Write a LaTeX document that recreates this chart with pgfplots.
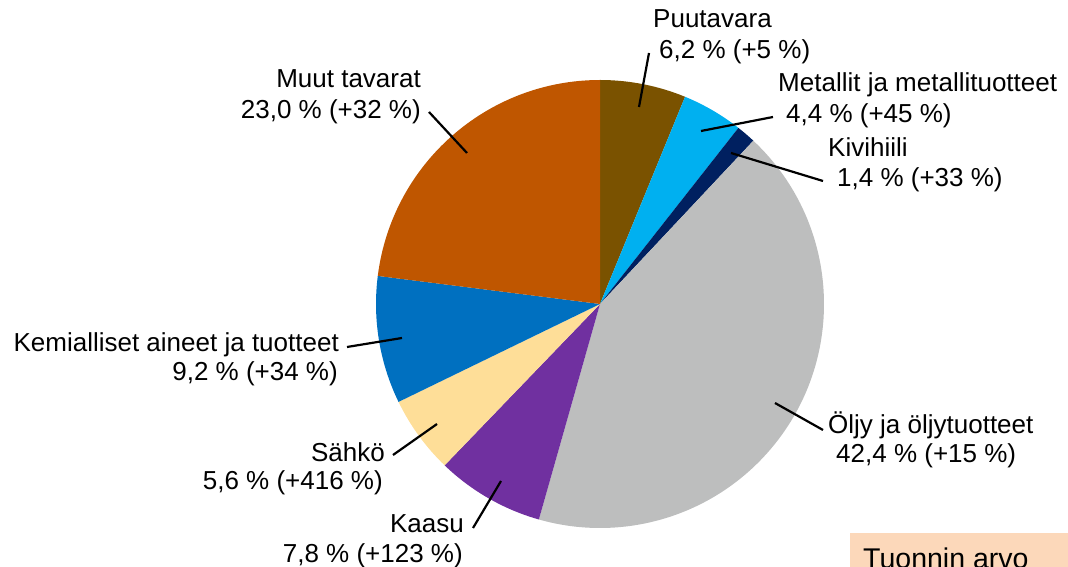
\documentclass[border=0pt]{standalone}
\usepackage{fontspec}
\setmainfont{Liberation Sans}
\usepackage{pgfplots}
\usepackage{pgfplotstable}
\pgfplotsset{compat=1.18}
\definecolor{c0}{RGB}{122,82,0}
\definecolor{c1}{RGB}{0,176,240}
\definecolor{c2}{RGB}{0,32,96}
\definecolor{c3}{RGB}{189,190,190}
\definecolor{c4}{RGB}{112,48,160}
\definecolor{c5}{RGB}{254,222,152}
\definecolor{c6}{RGB}{0,112,192}
\definecolor{c7}{RGB}{191,86,0}
\definecolor{boxc}{RGB}{252,216,186}
\tikzset{lbl/.style={font=\fontsize{26}{31}\selectfont, inner sep=0pt}}
\pgfplotstableread{
label value
Puutavara 6.2
Metallit 4.4
Kivihiili 1.4
Oljy 42.4
Kaasu 7.8
Sahko 5.6
Kemialliset 9.2
Muut 23.0
}\piedata
\begin{document}
\xdef\cum{0}%
\foreach \i in {0,...,7}{%
  \pgfplotstablegetelem{\i}{value}\of\piedata
  \pgfmathsetmacro\sa{90-3.6*\cum}%
  \pgfmathsetmacro\newcum{\cum+\pgfplotsretval}%
  \pgfmathsetmacro\sb{90-3.6*\newcum}%
  \expandafter\xdef\csname sa\i\endcsname{\sa}%
  \expandafter\xdef\csname sb\i\endcsname{\sb}%
  \xdef\cum{\newcum}%
}%
\begin{tikzpicture}
\begin{axis}[
  x=1pt, y=1pt, xmin=0, xmax=1068, ymin=0, ymax=567,
  hide axis, clip=false, anchor=south west, at={(0,0)},
]
\fill[boxc] (axis cs:850,-20) rectangle (axis cs:1090,34);
\pgfplotsinvokeforeach{0,...,7}{
  \fill[c#1] (axis cs:600,263) -- +(\csname sa#1\endcsname:224pt)
     arc[start angle=\csname sa#1\endcsname, end angle=\csname sb#1\endcsname, radius=224pt] -- cycle;
}
% leader lines
\draw[line width=2.2pt] (axis cs:639,460) -- (axis cs:649,514);
\draw[line width=2.2pt] (axis cs:701,436) -- (axis cs:773,450);
\draw[line width=2.2pt] (axis cs:731,414) -- (axis cs:823,386);
\draw[line width=2.2pt] (axis cs:467,414) -- (axis cs:429,455);
\draw[line width=2.2pt] (axis cs:402,229) -- (axis cs:347,220);
\draw[line width=2.2pt] (axis cs:437,143) -- (axis cs:393,112);
\draw[line width=2.2pt] (axis cs:501,86) -- (axis cs:473,39);
\draw[line width=2.2pt] (axis cs:775,164) -- (axis cs:823,137);
% labels
\node[lbl, anchor=base west] at (axis cs:653,539) {Puutavara};
\node[lbl, anchor=base west] at (axis cs:659,508) {6,2 \% (+5 \%)};
\node[lbl, anchor=base west] at (axis cs:778,475) {Metallit ja metallituotteet};
\node[lbl, anchor=base west] at (axis cs:786,444) {4,4 \% (+45 \%)};
\node[lbl, anchor=base west] at (axis cs:828,410) {Kivihiili};
\node[lbl, anchor=base west] at (axis cs:837,380) {1,4 \% (+33 \%)};
\node[lbl, anchor=base east] at (axis cs:421,479) {Muut tavarat};
\node[lbl, anchor=base east] at (axis cs:421,448) {23,0 \% (+32 \%)};
\node[lbl, anchor=base east] at (axis cs:339,215) {Kemialliset aineet ja tuotteet};
\node[lbl, anchor=base east] at (axis cs:338,186) {9,2 \% (+34 \%)};
\node[lbl, anchor=base east] at (axis cs:385,105) {Sähkö};
\node[lbl, anchor=base east] at (axis cs:383,77) {5,6 \% (+416 \%)};
\node[lbl, anchor=base east] at (axis cs:464,34) {Kaasu};
\node[lbl, anchor=base east] at (axis cs:463,4) {7,8 \% (+123 \%)};
\node[lbl, anchor=base west] at (axis cs:828,133) {Öljy ja öljytuotteet};
\node[lbl, anchor=base west] at (axis cs:836,104) {42,4 \% (+15 \%)};
\node[lbl, anchor=base west, font=\fontsize{28.5}{33}\selectfont] at (axis cs:863,-2) {Tuonnin arvo};
\end{axis}
\pgfresetboundingbox
\useasboundingbox (current axis.south west) rectangle (current axis.north east);
\end{tikzpicture}
\end{document}
